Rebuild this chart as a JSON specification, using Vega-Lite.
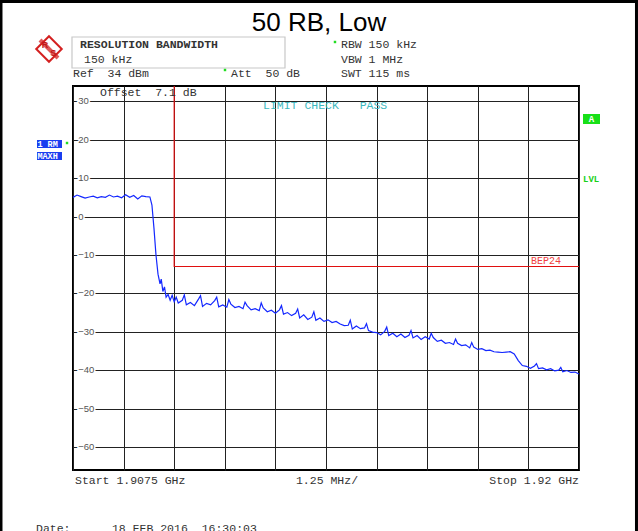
{
  "$schema": "https://vega.github.io/schema/vega-lite/v6.json",
  "width": 506,
  "height": 384,
  "autosize": {"type": "none"},
  "padding": {"left": 73, "top": 86, "right": 59, "bottom": 61},
  "background": "white",
  "config": {
    "view": {"stroke": "#000", "strokeWidth": 2},
    "axis": {"gridColor": "#222", "gridWidth": 1, "gridOpacity": 1, "ticks": false, "tickSize": 0, "domain": false, "title": null}
  },
  "datasets": {
    "trace": [
      {"f": 1907.5, "dBm": 5.0}, {"f": 1907.6, "dBm": 5.6}, {"f": 1907.7, "dBm": 5.2}, {"f": 1907.8, "dBm": 4.8},
      {"f": 1907.9, "dBm": 5.1}, {"f": 1908.0, "dBm": 5.3}, {"f": 1908.1, "dBm": 4.9}, {"f": 1908.2, "dBm": 5.2},
      {"f": 1908.3, "dBm": 5.0}, {"f": 1908.4, "dBm": 5.6}, {"f": 1908.5, "dBm": 5.1}, {"f": 1908.6, "dBm": 5.3},
      {"f": 1908.7, "dBm": 4.9}, {"f": 1908.8, "dBm": 5.7}, {"f": 1908.9, "dBm": 5.0}, {"f": 1909.0, "dBm": 5.5},
      {"f": 1909.1, "dBm": 4.6}, {"f": 1909.2, "dBm": 5.4}, {"f": 1909.3, "dBm": 5.2}, {"f": 1909.4, "dBm": 5.1},
      {"f": 1909.45, "dBm": 3.0}, {"f": 1909.5, "dBm": -3.0}, {"f": 1909.55, "dBm": -10.0}, {"f": 1909.6, "dBm": -15.0},
      {"f": 1909.65, "dBm": -17.5}, {"f": 1909.68, "dBm": -16.3}, {"f": 1909.72, "dBm": -19.5}, {"f": 1909.76, "dBm": -18.3},
      {"f": 1909.8, "dBm": -21.0}, {"f": 1909.85, "dBm": -20.3}, {"f": 1909.9, "dBm": -21.8}, {"f": 1909.95, "dBm": -20.5},
      {"f": 1910.0, "dBm": -22.2}, {"f": 1910.05, "dBm": -21.0}, {"f": 1910.1, "dBm": -22.5}, {"f": 1910.2, "dBm": -21.8},
      {"f": 1910.3, "dBm": -23.0}, {"f": 1910.4, "dBm": -22.4}, {"f": 1910.5, "dBm": -23.2}, {"f": 1910.6, "dBm": -21.5},
      {"f": 1910.7, "dBm": -23.4}, {"f": 1910.8, "dBm": -22.6}, {"f": 1910.9, "dBm": -23.0}, {"f": 1911.0, "dBm": -21.9},
      {"f": 1911.1, "dBm": -23.5}, {"f": 1911.2, "dBm": -23.0}, {"f": 1911.3, "dBm": -23.6}, {"f": 1911.4, "dBm": -22.8},
      {"f": 1911.5, "dBm": -23.7}, {"f": 1911.6, "dBm": -23.4}, {"f": 1911.7, "dBm": -24.0}, {"f": 1911.8, "dBm": -23.2},
      {"f": 1911.9, "dBm": -24.3}, {"f": 1912.0, "dBm": -24.0}, {"f": 1912.1, "dBm": -24.5}, {"f": 1912.2, "dBm": -23.8},
      {"f": 1912.3, "dBm": -24.8}, {"f": 1912.4, "dBm": -24.4}, {"f": 1912.5, "dBm": -25.2}, {"f": 1912.6, "dBm": -24.3},
      {"f": 1912.7, "dBm": -25.4}, {"f": 1912.8, "dBm": -25.0}, {"f": 1912.9, "dBm": -25.8}, {"f": 1913.0, "dBm": -25.2},
      {"f": 1913.1, "dBm": -26.4}, {"f": 1913.2, "dBm": -25.6}, {"f": 1913.3, "dBm": -26.8}, {"f": 1913.4, "dBm": -26.2},
      {"f": 1913.5, "dBm": -27.0}, {"f": 1913.6, "dBm": -26.4}, {"f": 1913.7, "dBm": -27.3}, {"f": 1913.8, "dBm": -26.9},
      {"f": 1913.9, "dBm": -27.6}, {"f": 1914.0, "dBm": -27.3}, {"f": 1914.1, "dBm": -28.0}, {"f": 1914.2, "dBm": -28.4},
      {"f": 1914.3, "dBm": -28.3}, {"f": 1914.4, "dBm": -29.3}, {"f": 1914.5, "dBm": -28.5}, {"f": 1914.6, "dBm": -29.2},
      {"f": 1914.7, "dBm": -29.0}, {"f": 1914.8, "dBm": -29.7}, {"f": 1914.9, "dBm": -30.1}, {"f": 1915.0, "dBm": -30.2},
      {"f": 1915.1, "dBm": -30.8}, {"f": 1915.2, "dBm": -29.9}, {"f": 1915.3, "dBm": -31.0}, {"f": 1915.4, "dBm": -30.4},
      {"f": 1915.5, "dBm": -31.3}, {"f": 1915.6, "dBm": -30.6}, {"f": 1915.7, "dBm": -31.5}, {"f": 1915.8, "dBm": -30.9},
      {"f": 1915.9, "dBm": -31.6}, {"f": 1916.0, "dBm": -31.0}, {"f": 1916.1, "dBm": -32.0}, {"f": 1916.2, "dBm": -31.3},
      {"f": 1916.3, "dBm": -31.9}, {"f": 1916.4, "dBm": -31.5}, {"f": 1916.5, "dBm": -32.5}, {"f": 1916.6, "dBm": -32.2},
      {"f": 1916.7, "dBm": -33.0}, {"f": 1916.8, "dBm": -32.8}, {"f": 1916.9, "dBm": -33.3}, {"f": 1917.0, "dBm": -33.0},
      {"f": 1917.1, "dBm": -33.6}, {"f": 1917.2, "dBm": -33.4}, {"f": 1917.3, "dBm": -34.2}, {"f": 1917.4, "dBm": -34.0},
      {"f": 1917.5, "dBm": -34.6}, {"f": 1917.6, "dBm": -34.4}, {"f": 1917.7, "dBm": -34.9}, {"f": 1917.8, "dBm": -34.8},
      {"f": 1917.9, "dBm": -35.2}, {"f": 1918.0, "dBm": -35.3}, {"f": 1918.1, "dBm": -35.4}, {"f": 1918.2, "dBm": -35.3},
      {"f": 1918.3, "dBm": -35.2}, {"f": 1918.4, "dBm": -35.8}, {"f": 1918.5, "dBm": -37.5}, {"f": 1918.6, "dBm": -38.8},
      {"f": 1918.7, "dBm": -39.0}, {"f": 1918.8, "dBm": -39.5}, {"f": 1918.9, "dBm": -38.9}, {"f": 1919.0, "dBm": -39.6},
      {"f": 1919.1, "dBm": -39.4}, {"f": 1919.2, "dBm": -39.9}, {"f": 1919.3, "dBm": -39.6}, {"f": 1919.4, "dBm": -40.2},
      {"f": 1919.5, "dBm": -40.0}, {"f": 1919.6, "dBm": -40.4}, {"f": 1919.7, "dBm": -40.1}, {"f": 1919.8, "dBm": -40.6},
      {"f": 1919.9, "dBm": -40.5}, {"f": 1920.0, "dBm": -41.0},
      {"f": 1910.25, "dBm": -20.4}, {"f": 1910.65, "dBm": -20.6}, {"f": 1911.05, "dBm": -21.0}, {"f": 1911.35, "dBm": -21.6},
      {"f": 1911.75, "dBm": -22.3}, {"f": 1912.15, "dBm": -22.5}, {"f": 1912.65, "dBm": -23.2}, {"f": 1913.05, "dBm": -24.1},
      {"f": 1913.45, "dBm": -24.8}, {"f": 1914.35, "dBm": -27.0}, {"f": 1914.75, "dBm": -27.9}, {"f": 1915.25, "dBm": -28.8},
      {"f": 1915.85, "dBm": -29.7}, {"f": 1916.35, "dBm": -30.4}, {"f": 1916.95, "dBm": -31.9}, {"f": 1917.35, "dBm": -32.8},
      {"f": 1918.95, "dBm": -38.3}, {"f": 1919.55, "dBm": -39.3}
    ],
    "limit": [
      {"f": 1910.0, "dBm": 34},
      {"f": 1910.0, "dBm": -13},
      {"f": 1920.0, "dBm": -13}
    ],
    "ylabels": [
      {"v": 30}, {"v": 20}, {"v": 10}, {"v": 0}, {"v": -10}, {"v": -20}, {"v": -30}, {"v": -40}, {"v": -50}, {"v": -60}
    ]
  },
  "layer": [
    {
      "data": {"values": [{}]},
      "mark": {"type": "rect", "fill": null, "stroke": "#000", "strokeWidth": 3},
      "encoding": {
        "x": {"datum": 1905.721}, "x2": {"datum": 1921.42},
        "y": {"datum": 56.0}, "y2": {"datum": -84.2}
      }
    },
    {
      "data": {"name": "trace"},
      "mark": {"type": "line", "color": "#1428ff", "strokeWidth": 1.2, "interpolate": "linear"},
      "encoding": {
        "x": {"field": "f", "type": "quantitative", "scale": {"domain": [1907.5, 1920], "nice": false, "zero": false},
          "axis": {"values": [1907.5, 1908.75, 1910, 1911.25, 1912.5, 1913.75, 1915, 1916.25, 1917.5, 1918.75, 1920], "labels": false, "grid": true, "title": null}},
        "y": {"field": "dBm", "type": "quantitative", "scale": {"domain": [-66, 34], "nice": false, "zero": false},
          "axis": {"values": [30, 20, 10, 0, -10, -20, -30, -40, -50, -60], "grid": true, "labels": false, "title": null}}
      }
    },
    {
      "data": {"name": "ylabels"},
      "mark": {"type": "text", "font": "Liberation Sans", "fontSize": 9.5, "color": "#fff", "stroke": "#fff", "strokeWidth": 3, "align": "left", "baseline": "middle"},
      "encoding": {
        "x": {"datum": 1907.63},
        "y": {"field": "v", "type": "quantitative"},
        "text": {"field": "v", "type": "quantitative", "format": "d"}
      }
    },
    {
      "data": {"name": "ylabels"},
      "mark": {"type": "text", "font": "Liberation Sans", "fontSize": 9.5, "color": "#555", "align": "left", "baseline": "middle"},
      "encoding": {
        "x": {"datum": 1907.63},
        "y": {"field": "v", "type": "quantitative"},
        "text": {"field": "v", "type": "quantitative", "format": "d"}
      }
    },
    {
      "data": {"name": "limit"},
      "mark": {"type": "line", "color": "#e01010", "strokeWidth": 1.2},
      "encoding": {
        "x": {"field": "f", "type": "quantitative"},
        "y": {"field": "dBm", "type": "quantitative"},
        "order": {"field": "dBm", "sort": "descending"}
      }
    },
    {
      "data": {"values": [{}]},
      "mark": {"type": "text", "text": "50 RB, Low", "font": "Liberation Sans", "fontSize": 26, "color": "#000", "align": "center", "baseline": "alphabetic"},
      "encoding": {"x": {"datum": 1913.577}, "y": {"datum": 48.323}}
    },
    {
      "data": {"values": [{}]},
      "mark": {"type": "rect", "fill": null, "stroke": "#c8c8c8", "strokeWidth": 1.2},
      "encoding": {"x": {"datum": 1907.475}, "x2": {"datum": 1912.737}, "y": {"datum": 46.76}, "y2": {"datum": 38.69}}
    },
    {
      "data": {"values": [{}]},
      "mark": {"type": "point", "shape": "diamond", "size": 650, "filled": false, "stroke": "#d42020", "strokeWidth": 2, "opacity": 1},
      "encoding": {"x": {"datum": 1906.907}, "y": {"datum": 43.635}}
    },
    {
      "data": {"values": [{}]},
      "mark": {"type": "rule", "color": "#d42020", "strokeWidth": 4, "opacity": 0.75},
      "encoding": {"x": {"datum": 1906.685}, "y": {"datum": 45.979}, "x2": {"datum": 1907.129}, "y2": {"datum": 41.292}}
    },
    {
      "data": {"values": [{}]},
      "mark": {"type": "text", "text": "R", "font": "Liberation Sans", "fontSize": 9, "fontWeight": "bold", "color": "#c01818", "align": "center", "baseline": "middle"},
      "encoding": {"x": {"datum": 1906.808}, "y": {"datum": 44.677}}
    },
    {
      "data": {"values": [{}]},
      "mark": {"type": "text", "text": "S", "font": "Liberation Sans", "fontSize": 9, "fontWeight": "bold", "color": "#c01818", "align": "center", "baseline": "middle"},
      "encoding": {"x": {"datum": 1907.013}, "y": {"datum": 42.515}}
    },
    {
      "data": {"values": [{}]},
      "mark": {"type": "text", "text": "RESOLUTION BANDWIDTH", "font": "Liberation Mono", "fontSize": 11.5, "fontWeight": "bold", "color": "#333", "align": "left", "baseline": "middle"},
      "encoding": {"x": {"datum": 1907.673}, "y": {"datum": 44.677}}
    },
    {
      "data": {"values": [{}]},
      "mark": {"type": "text", "text": "150 kHz", "font": "Liberation Mono", "fontSize": 11.5, "color": "#333", "align": "left", "baseline": "middle"},
      "encoding": {"x": {"datum": 1907.772}, "y": {"datum": 40.771}}
    },
    {
      "data": {"values": [{}]},
      "mark": {"type": "text", "text": "Ref\u00a0\u00a034\u00a0dBm", "font": "Liberation Mono", "fontSize": 11.5, "color": "#333", "align": "left", "baseline": "middle"},
      "encoding": {"x": {"datum": 1907.5}, "y": {"datum": 37.125}}
    },
    {
      "data": {"values": [{}]},
      "mark": {"type": "text", "text": "Att\u00a0\u00a050\u00a0dB", "font": "Liberation Mono", "fontSize": 11.5, "color": "#333", "align": "left", "baseline": "middle"},
      "encoding": {"x": {"datum": 1911.403}, "y": {"datum": 37.125}}
    },
    {
      "data": {"values": [{}]},
      "mark": {"type": "text", "text": "RBW 150 kHz", "font": "Liberation Mono", "fontSize": 11.5, "color": "#333", "align": "left", "baseline": "middle"},
      "encoding": {"x": {"datum": 1914.121}, "y": {"datum": 44.677}}
    },
    {
      "data": {"values": [{}]},
      "mark": {"type": "text", "text": "VBW 1 MHz", "font": "Liberation Mono", "fontSize": 11.5, "color": "#333", "align": "left", "baseline": "middle"},
      "encoding": {"x": {"datum": 1914.121}, "y": {"datum": 40.771}}
    },
    {
      "data": {"values": [{}]},
      "mark": {"type": "text", "text": "SWT 115 ms", "font": "Liberation Mono", "fontSize": 11.5, "color": "#333", "align": "left", "baseline": "middle"},
      "encoding": {"x": {"datum": 1914.121}, "y": {"datum": 37.125}}
    },
    {
      "data": {"values": [{}]},
      "mark": {"type": "point", "shape": "square", "size": 6, "filled": true, "color": "#22dd22", "opacity": 1},
      "encoding": {"x": {"datum": 1913.972}, "y": {"datum": 45.46}}
    },
    {
      "data": {"values": [{}]},
      "mark": {"type": "point", "shape": "square", "size": 6, "filled": true, "color": "#22dd22", "opacity": 1},
      "encoding": {"x": {"datum": 1911.255}, "y": {"datum": 38.167}}
    },
    {
      "data": {"values": [{}]},
      "mark": {"type": "point", "shape": "square", "size": 6, "filled": true, "color": "#22dd22", "opacity": 1},
      "encoding": {"x": {"datum": 1907.352}, "y": {"datum": 19.156}}
    },
    {
      "data": {"values": [{}]},
      "mark": {"type": "text", "text": "Offset\u00a0\u00a07.1\u00a0dB", "font": "Liberation Mono", "fontSize": 11.5, "color": "#333", "align": "left", "baseline": "middle"},
      "encoding": {"x": {"datum": 1908.167}, "y": {"datum": 32.177}}
    },
    {
      "data": {"values": [{}]},
      "mark": {"type": "text", "text": "LIMIT CHECK\u00a0\u00a0\u00a0PASS", "font": "Liberation Mono", "fontSize": 11.5, "color": "#3bb8c0", "align": "left", "baseline": "middle"},
      "encoding": {"x": {"datum": 1912.194}, "y": {"datum": 28.792}}
    },
    {
      "data": {"values": [{}]},
      "mark": {"type": "text", "text": "Start 1.9075 GHz", "font": "Liberation Mono", "fontSize": 11.5, "color": "#333", "align": "left", "baseline": "middle"},
      "encoding": {"x": {"datum": 1907.549}, "y": {"datum": -68.865}}
    },
    {
      "data": {"values": [{}]},
      "mark": {"type": "text", "text": "1.25 MHz/", "font": "Liberation Mono", "fontSize": 11.5, "color": "#333", "align": "center", "baseline": "middle"},
      "encoding": {"x": {"datum": 1913.775}, "y": {"datum": -68.865}}
    },
    {
      "data": {"values": [{}]},
      "mark": {"type": "text", "text": "Stop 1.92 GHz", "font": "Liberation Mono", "fontSize": 11.5, "color": "#333", "align": "right", "baseline": "middle"},
      "encoding": {"x": {"datum": 1920.0}, "y": {"datum": -68.865}}
    },
    {
      "data": {"values": [{}]},
      "mark": {"type": "text", "text": "Date:\u00a0\u00a0\u00a0\u00a0\u00a0\u00a018 FEB 2016\u00a0\u00a016:30:03", "font": "Liberation Mono", "fontSize": 11.5, "color": "#333", "align": "left", "baseline": "middle"},
      "encoding": {"x": {"datum": 1906.586}, "y": {"datum": -81.4}}
    },
    {
      "data": {"values": [{}]},
      "mark": {"type": "rect", "fill": "#1a3ef0", "stroke": null},
      "encoding": {"x": {"datum": 1906.611}, "x2": {"datum": 1907.228}, "y": {"datum": 19.938}, "y2": {"datum": 17.854}}
    },
    {
      "data": {"values": [{}]},
      "mark": {"type": "rect", "fill": "#1a3ef0", "stroke": null},
      "encoding": {"x": {"datum": 1906.611}, "x2": {"datum": 1907.228}, "y": {"datum": 16.813}, "y2": {"datum": 14.729}}
    },
    {
      "data": {"values": [{}]},
      "mark": {"type": "text", "text": "1 RM", "font": "Liberation Mono", "fontSize": 8.5, "fontWeight": "bold", "color": "#fff", "align": "left", "baseline": "middle"},
      "encoding": {"x": {"datum": 1906.62}, "y": {"datum": 18.896}}
    },
    {
      "data": {"values": [{}]},
      "mark": {"type": "text", "text": "MAXH", "font": "Liberation Mono", "fontSize": 8.5, "fontWeight": "bold", "color": "#fff", "align": "left", "baseline": "middle"},
      "encoding": {"x": {"datum": 1906.62}, "y": {"datum": 15.771}}
    },
    {
      "data": {"values": [{}]},
      "mark": {"type": "rect", "fill": "#18e018", "stroke": null},
      "encoding": {"x": {"datum": 1920.099}, "x2": {"datum": 1920.519}, "y": {"datum": 26.708}, "y2": {"datum": 24.104}}
    },
    {
      "data": {"values": [{}]},
      "mark": {"type": "text", "text": "A", "font": "Liberation Mono", "fontSize": 9, "fontWeight": "bold", "color": "#fff", "align": "center", "baseline": "middle"},
      "encoding": {"x": {"datum": 1920.309}, "y": {"datum": 25.406}}
    },
    {
      "data": {"values": [{}]},
      "mark": {"type": "text", "text": "LVL", "font": "Liberation Mono", "fontSize": 9, "fontWeight": "bold", "color": "#18d018", "align": "left", "baseline": "middle"},
      "encoding": {"x": {"datum": 1920.099}, "y": {"datum": 9.781}}
    },
    {
      "data": {"values": [{}]},
      "mark": {"type": "text", "text": "BEP24", "font": "Liberation Mono", "fontSize": 10, "color": "#f04040", "align": "left", "baseline": "middle"},
      "encoding": {"x": {"datum": 1918.814}, "y": {"datum": -11.573}}
    }
  ]
}
